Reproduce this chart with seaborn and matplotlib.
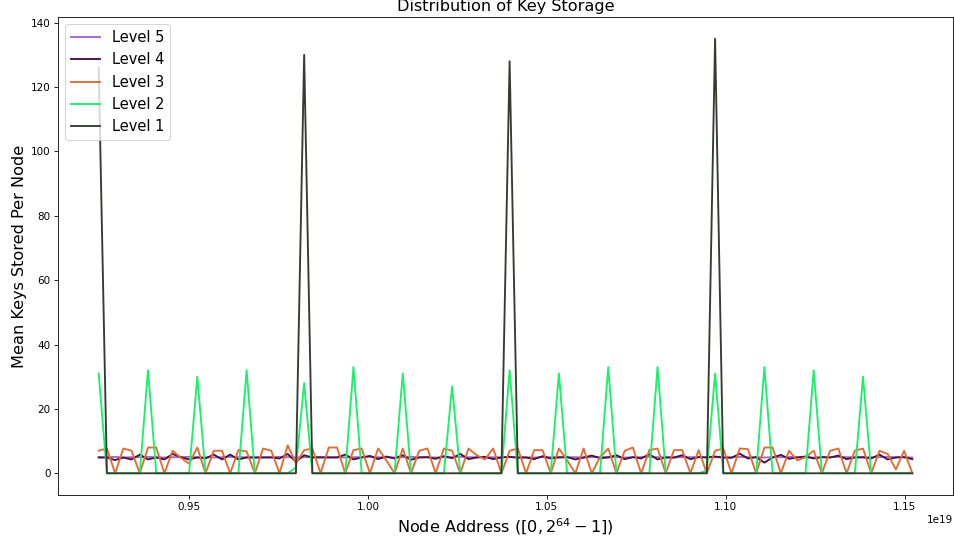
import numpy as np
import pandas as pd
import matplotlib
matplotlib.use("Agg")
import matplotlib.pyplot as plt
import seaborn as sns

# Node addresses sampled across the key space (100 evenly spaced nodes)
addr_start = 0.9248e19
addr_stop = 1.1521e19
n_nodes = 100

level_1 = [126, 0, 0, 0, 0, 0, 0, 0, 0, 0,
           0, 0, 0, 0, 0, 0, 0, 0, 0, 0,
           0, 0, 0, 0, 0, 130, 0, 0, 0, 0,
           0, 0, 0, 0, 0, 0, 0, 0, 0, 0,
           0, 0, 0, 0, 0, 0, 0, 0, 0, 0,
           128, 0, 0, 0, 0, 0, 0, 0, 0, 0,
           0, 0, 0, 0, 0, 0, 0, 0, 0, 0,
           0, 0, 0, 0, 0, 135, 0, 0, 0, 0,
           0, 0, 0, 0, 0, 0, 0, 0, 0, 0,
           0, 0, 0, 0, 0, 0, 0, 0, 0, 0]

level_2 = [31, 0, 0, 0, 0, 0, 32, 0, 0, 0,
           0, 0, 30, 0, 0, 0, 0, 0, 32, 0,
           0, 0, 0, 0, 1.8, 28, 0, 0, 0, 0,
           0, 33, 0, 0, 0, 0, 0, 31, 0, 0,
           0, 0, 0, 27, 0, 0, 0, 0, 0, 0,
           32, 0, 0, 0, 0, 0, 31, 0, 0, 0,
           0, 0, 33, 0, 0, 0, 0, 0, 33, 0,
           0, 0, 0, 0, 0.8, 31, 0, 0, 0, 0,
           0, 33, 0, 0, 0, 0, 0, 32, 0, 0,
           0, 0, 0, 30, 0, 0, 0, 0, 0, 0]

level_3 = [7.0, 7.7, 0, 7.7, 7.0, 0, 8.0, 8.0, 0, 7.0,
           4.8, 3.0, 8.0, 0, 7.0, 7.0, 0, 7.2, 6.8, 0,
           7.7, 7.0, 0, 8.7, 3.0, 7.2, 7.7, 0, 8.0, 8.0,
           0, 7.2, 7.7, 0, 7.7, 4.0, 0, 7.7, 0, 7.0,
           7.7, 0, 7.7, 7.0, 0, 7.7, 5.6, 4.3, 7.7, 0,
           7.0, 7.7, 0, 7.2, 7.2, 0, 7.7, 4.0, 0, 7.7,
           0, 5.0, 7.7, 0, 7.0, 8.0, 0, 7.2, 7.7, 0,
           7.2, 7.2, 0, 7.2, 0, 7.0, 7.7, 0, 7.7, 7.5,
           0, 8.0, 8.0, 0, 7.0, 4.0, 5.0, 7.0, 0, 7.0,
           7.7, 0, 7.0, 7.7, 0, 7.0, 6.0, 1.2, 7.0, 0]

level_4 = [4.9, 4.9, 4.1, 4.9, 4.3, 5.8, 4.3, 4.9, 4.3, 6.0,
           5.0, 4.3, 4.9, 4.6, 5.8, 4.3, 5.8, 4.3, 4.9, 4.9,
           4.9, 4.9, 4.6, 6.0, 3.6, 5.6, 4.9, 4.9, 4.9, 4.9,
           5.8, 4.3, 4.9, 5.4, 4.4, 5.2, 4.6, 5.6, 4.2, 4.9,
           5.0, 4.5, 5.3, 4.7, 6.0, 4.4, 4.9, 5.1, 4.4, 4.9,
           5.1, 4.8, 4.9, 4.4, 5.3, 4.6, 4.9, 5.0, 4.3, 4.9,
           5.5, 4.7, 4.9, 5.6, 4.4, 5.0, 4.6, 5.9, 4.3, 4.9,
           4.9, 5.6, 4.4, 5.0, 4.9, 5.2, 4.9, 4.8, 6.1, 4.6,
           5.0, 3.3, 4.9, 5.7, 4.5, 4.9, 5.2, 4.6, 5.0, 4.9,
           5.5, 4.4, 4.9, 5.0, 4.6, 5.8, 4.3, 4.9, 5.0, 4.4]

level_5 = [5.0, 5.0, 5.1, 4.9, 5.0, 5.0, 5.1, 5.0, 4.9, 5.0,
           5.0, 5.1, 5.0, 5.0, 4.9, 5.0, 5.1, 5.0, 5.0, 4.9,
           5.0, 5.0, 5.1, 5.0, 4.9, 5.0, 5.0, 5.1, 5.0, 5.0,
           4.9, 5.0, 5.0, 5.1, 5.0, 5.0, 4.9, 5.0, 5.1, 5.0,
           5.0, 4.9, 5.0, 5.0, 5.1, 5.0, 5.0, 4.9, 5.0, 5.0,
           5.1, 5.0, 5.0, 4.9, 5.0, 5.0, 5.1, 5.0, 5.0, 4.9,
           5.0, 5.0, 5.1, 5.0, 4.9, 5.0, 5.0, 5.1, 5.0, 5.0,
           4.9, 5.0, 5.0, 5.1, 5.0, 5.0, 4.9, 5.0, 5.1, 5.0,
           5.0, 4.9, 5.0, 5.0, 5.1, 5.0, 5.0, 4.9, 5.0, 5.0,
           5.1, 5.0, 5.0, 4.9, 5.0, 5.0, 5.1, 5.0, 5.0, 4.9]

level_names = ["Level 5", "Level 4", "Level 3", "Level 2", "Level 1"]
level_values = [level_5, level_4, level_3, level_2, level_1]
level_colors = ["#a866c8", "#4a0f44", "#e06c36", "#1cef6b", "#363b30"]

addresses = np.linspace(addr_start, addr_stop, n_nodes)

frames = []
for name, vals in zip(level_names, level_values):
    frames.append(pd.DataFrame({"address": addresses,
                                "keys": vals,
                                "level": name}))
df = pd.concat(frames, ignore_index=True)

dpi = 75
fig = plt.figure(figsize=(955 / dpi, 539 / dpi), dpi=dpi)
ax = fig.add_axes([58 / 955, 1 - 495 / 539, (953 - 58) / 955, (495 - 17) / 539])

sns.lineplot(data=df, x="address", y="keys", hue="level",
             hue_order=level_names,
             palette=dict(zip(level_names, level_colors)),
             errorbar=None, linewidth=1.8, ax=ax)

handles, labels = ax.get_legend_handles_labels()
ax.legend(handles, labels, loc="upper left", fontsize=14)

ax.set_title("Distribution of Key Storage", fontsize=15.5)
ax.set_xlabel(r"Node Address ($[0, 2^{64} - 1]$)", fontsize=15.5)
ax.set_ylabel("Mean Keys Stored Per Node", fontsize=15.5)
ax.tick_params(labelsize=10)
ax.xaxis.get_offset_text().set_fontsize(10)

fig.savefig("out.png", dpi=dpi)
